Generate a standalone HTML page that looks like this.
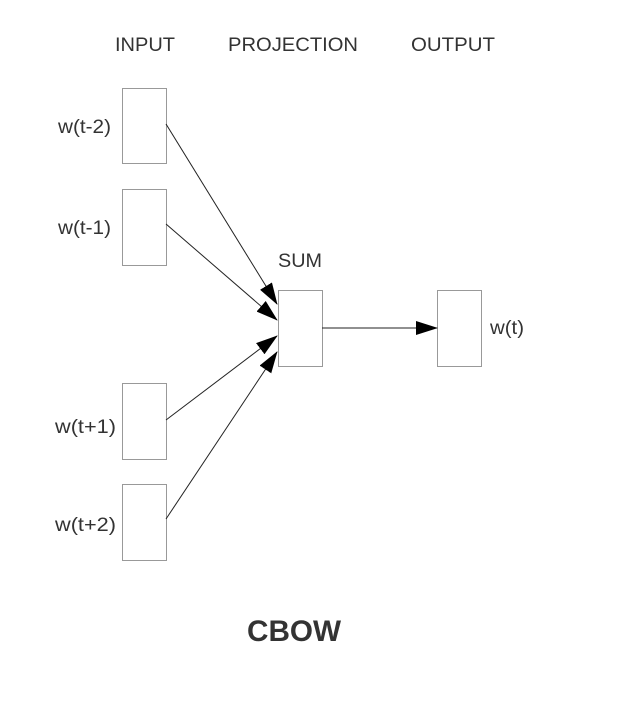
<!DOCTYPE html>
<html><head><meta charset="utf-8"><style>
html,body{margin:0;padding:0;background:#fff;}
svg{display:block;}
text{font-family:"Liberation Sans",Arial,sans-serif;fill:#333;}
</style></head><body>
<svg width="625" height="708" viewBox="0 0 625 708" xmlns="http://www.w3.org/2000/svg">
<defs>
<marker id="b" markerWidth="22" markerHeight="14" refX="21" refY="7" orient="auto" markerUnits="userSpaceOnUse" viewBox="0 0 22 14">
<path d="M0,0 L22,7 L0,14 Z" fill="#000"/>
</marker>
</defs>
<text x="115" y="51" font-size="19" textLength="60" lengthAdjust="spacingAndGlyphs">INPUT</text>
<text x="228" y="51" font-size="19" textLength="130" lengthAdjust="spacingAndGlyphs">PROJECTION</text>
<text x="411" y="51" font-size="19" textLength="84" lengthAdjust="spacingAndGlyphs">OUTPUT</text>
<g fill="#fff" stroke="#999" stroke-width="1">
<rect x="122.5" y="88.5" width="44" height="75"/>
<rect x="122.5" y="189.5" width="44" height="76"/>
<rect x="122.5" y="383.5" width="44" height="76"/>
<rect x="122.5" y="484.5" width="44" height="76"/>
<rect x="278.5" y="290.5" width="44" height="76"/>
<rect x="437.5" y="290.5" width="44" height="76"/>
</g>
<g stroke="#222" stroke-width="1" fill="none">
<line x1="166" y1="124" x2="277" y2="304" marker-end="url(#b)"/>
<line x1="166" y1="224" x2="277" y2="320" marker-end="url(#b)"/>
<line x1="166" y1="420" x2="277" y2="336" marker-end="url(#b)"/>
<line x1="166" y1="519" x2="277" y2="352" marker-end="url(#b)"/>
<line x1="322" y1="328" x2="437" y2="328" marker-end="url(#b)"/>
</g>
<g font-size="19">
<text x="58" y="133" textLength="53" lengthAdjust="spacingAndGlyphs">w(t-2)</text>
<text x="58" y="234" textLength="53" lengthAdjust="spacingAndGlyphs">w(t-1)</text>
<text x="55" y="433" textLength="61" lengthAdjust="spacingAndGlyphs">w(t+1)</text>
<text x="55" y="531" textLength="61" lengthAdjust="spacingAndGlyphs">w(t+2)</text>
<text x="278" y="267" textLength="44" lengthAdjust="spacingAndGlyphs">SUM</text>
<text x="490" y="334" textLength="34" lengthAdjust="spacingAndGlyphs">w(t)</text>
</g>
<text x="247" y="641" font-size="30" font-weight="bold" textLength="94" lengthAdjust="spacingAndGlyphs">CBOW</text>
</svg>
</body></html>
